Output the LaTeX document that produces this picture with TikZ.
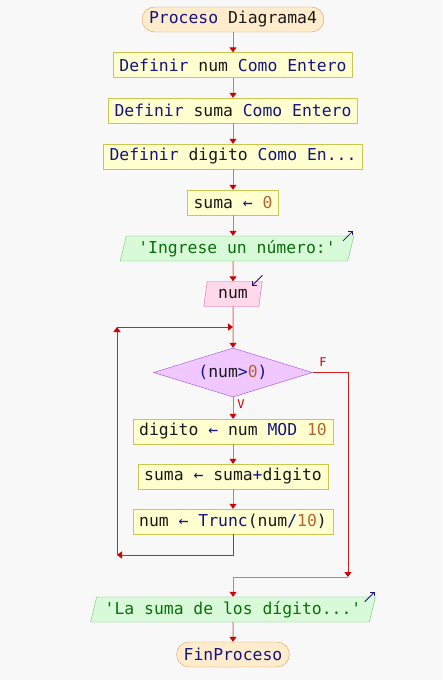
\documentclass[tikz,border=0pt]{standalone}
\usepackage{fontspec}
\setmonofont{DejaVu Sans Mono}
\usepackage{tikz}
\usetikzlibrary{arrows.meta, shapes.geometric}

\definecolor{bgcol}{RGB}{248,248,248}
\definecolor{procfill}{RGB}{255,236,204}
\definecolor{procdraw}{RGB}{214,160,90}
\definecolor{boxfill}{RGB}{255,255,208}
\definecolor{boxdraw}{RGB}{200,200,80}
\definecolor{outfill}{RGB}{216,250,216}
\definecolor{outdraw}{RGB}{110,200,110}
\definecolor{infill}{RGB}{255,216,236}
\definecolor{indraw}{RGB}{214,100,160}
\definecolor{condfill}{RGB}{240,200,255}
\definecolor{conddraw}{RGB}{160,80,220}
\definecolor{linecol}{RGB}{228,110,110}
\definecolor{loopcol}{RGB}{214,30,30}
\definecolor{tipcol}{RGB}{210,0,0}
\definecolor{kwcol}{RGB}{20,20,130}
\definecolor{numcol}{RGB}{180,100,50}
\definecolor{strcol}{RGB}{10,110,10}
\definecolor{txtcol}{RGB}{25,25,25}

\newcommand{\kwd}[1]{\textcolor{kwcol}{#1}}
\newcommand{\numc}[1]{\textcolor{numcol}{#1}}
\newcommand{\strc}[1]{\textcolor{strcol}{#1}}

\begin{document}
\begin{tikzpicture}[x=1pt, y=-1pt, font=\ttfamily\fontsize{16.4}{18}\selectfont, text=txtcol,
  proc/.style={draw=procdraw, fill=procfill, rounded corners=12.5pt, minimum height=25pt, inner xsep=7pt, inner ysep=0pt},
  assign/.style={draw=boxdraw, fill=boxfill, minimum height=25pt, inner xsep=6pt, inner ysep=0pt},
  outbox/.style={trapezium, trapezium left angle=70, trapezium right angle=110, trapezium stretches=true, draw=outdraw, fill=outfill, minimum height=25pt, inner xsep=8pt, inner ysep=0pt},
  inbox/.style={outbox, draw=indraw, fill=infill},
  cond/.style={diamond, aspect=3.2, draw=conddraw, fill=condfill, minimum width=159pt, minimum height=49pt, inner sep=1pt},
  flow/.style={draw=linecol, line width=1pt, -{Triangle[width=7pt, length=5pt, color=tipcol]}},
  loopline/.style={flow, draw=loopcol},
  icon/.style={draw=kwcol, line width=0.8pt, -{Straight Barb[length=3pt, width=6pt]}},
  lbl/.style={text=tipcol, font=\ttfamily\fontsize{12}{14}\selectfont}]

\fill[bgcol] (0,0) rectangle (442,680);

\node[proc] (start) at (233,19.5) {\kwd{Proceso} Diagrama4};
\node[assign] (defnum) at (233,65) {\kwd{Definir} num \kwd{Como Entero}};
\node[assign] (defsuma) at (233,110.5) {\kwd{Definir} suma \kwd{Como Entero}};
\node[assign] (defdig) at (233,156.5) {\kwd{Definir} digito \kwd{Como En...}};
\node[assign] (suma0) at (233,202.5) {suma \kwd{←} \numc{0}};
\node[outbox, inner xsep=12pt] (askout) at (237,248.5) {\strc{'Ingrese un número:'}};
\node[inbox, inner xsep=11pt] (readnum) at (233,294) {num};
\node[cond] (test) at (233,372.5) {\kwd{(}num\kwd{>}\numc{0}\kwd{)}};
\node[assign] (getdig) at (233,431.5) {digito \kwd{←} num \kwd{MOD} \numc{10}};
\node[assign] (addsuma) at (233,476.5) {suma \kwd{←} suma\kwd{+}digito};
\node[assign] (cutnum) at (233,521.5) {num \kwd{←} \kwd{Trunc}(num\kwd{/}\numc{10})};
\node[outbox] (sayout) at (233,609.5) {\strc{'La suma de los dígito...'}};
\node[proc] (finish) at (233,654.5) {\kwd{FinProceso}};

\node[lbl] (flbl) at (323,362) {F};
\node[lbl] (vlbl) at (241,404) {V};

\coordinate (lpjoin) at (233,327);
\coordinate (lpcorner) at (117,327);
\coordinate (lpbot) at (117,555);
\coordinate (fcorner) at (348,577);

\draw[flow] (start) -- (defnum);
\draw[flow] (defnum) -- (defsuma);
\draw[flow] (defsuma) -- (defdig);
\draw[flow] (defdig) -- (suma0);
\draw[flow] (suma0) -- (suma0 |- askout.north);
\draw[flow] (readnum |- askout.south) -- (readnum);
\draw[flow] (readnum) -- (test);
\draw[flow] (test) -- (getdig);
\draw[flow] (getdig) -- (addsuma);
\draw[flow] (addsuma) -- (cutnum);

% vuelta del mientras
\draw[loopline] (cutnum) |- (lpbot);
\draw[loopline] (lpbot) -- (lpcorner);
\draw[loopline] (lpcorner) -- (lpjoin);

% salida por F
\draw[loopline] (test) -| (fcorner);
\draw[flow] (fcorner) -| (sayout);
\draw[flow] (sayout) -- (finish);

% marcas de lectura y escritura
\draw[icon] ([shift={(-11,5)}]askout.top right corner) -- ([shift={(-1,-5)}]askout.top right corner);
\draw[icon] ([shift={(0,-6)}]readnum.top right corner) -- ([shift={(-10,4)}]readnum.top right corner);
\draw[icon] ([shift={(-11,5)}]sayout.top right corner) -- ([shift={(-1,-5)}]sayout.top right corner);
\end{tikzpicture}
\end{document}
